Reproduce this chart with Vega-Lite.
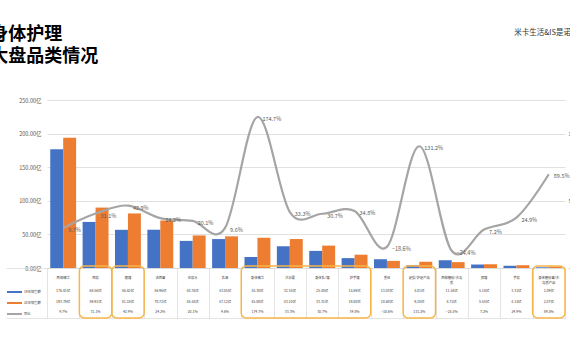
{
  "$schema": "https://vega.github.io/schema/vega-lite/v6.json",
  "padding": {"left": -10, "top": 25, "right": -11, "bottom": 0},
  "background": "white",
  "config": {"font": "Noto Sans CJK SC", "view": {"stroke": null}},
  "title": {"text": ["身体护理", "大盘品类情况"], "anchor": "start", "frame": "bounds", "fontSize": 18, "fontWeight": "bold", "lineHeight": 22, "color": "#000000", "dx": -15.5, "offset": -37},
  "datasets": {
    "cats": [
      {"cat": "面部精华", "y19": 176.81, "y20": 193.79, "yoy": 0.097},
      {"cat": "面膜", "y19": 68.56, "y20": 89.91, "yoy": 0.311},
      {"cat": "眼霜", "y19": 56.82, "y20": 81.18, "yoy": 0.429},
      {"cat": "洁面膏", "y19": 56.96, "y20": 70.72, "yoy": 0.242},
      {"cat": "化妆水", "y19": 40.34, "y20": 48.44, "yoy": 0.201},
      {"cat": "乳液", "y19": 43.05, "y20": 47.12, "yoy": 0.096},
      {"cat": "身体精华", "y19": 16.38, "y20": 45.00, "yoy": 1.747},
      {"cat": "沐浴露", "y19": 32.34, "y20": 43.10, "yoy": 0.333},
      {"cat": "身体乳/霜", "y19": 25.48, "y20": 33.31, "yoy": 0.307},
      {"cat": "护手霜", "y19": 14.69, "y20": 19.80, "yoy": 0.348},
      {"cat": "香体", "y19": 13.03, "y20": 10.60, "yoy": -0.186},
      {"cat": "足膜/护足产品", "y19": 4.01, "y20": 9.28, "yoy": 1.312},
      {"cat": "面部磨砂/去角\n质", "y19": 11.54, "y20": 8.72, "yoy": -0.244},
      {"cat": "颈霜", "y19": 5.18, "y20": 5.55, "yoy": 0.072},
      {"cat": "手膜", "y19": 3.31, "y20": 4.14, "yoy": 0.249},
      {"cat": "身体磨砂膏/去\n角质产品", "y19": 1.09, "y20": 2.07, "yoy": 0.895}
    ],
    "boxes": [
      {"start": "面膜", "end": "面膜"},
      {"start": "眼霜", "end": "眼霜"},
      {"start": "身体精华", "end": "护手霜"},
      {"start": "足膜/护足产品", "end": "足膜/护足产品"},
      {"start": "身体磨砂膏/去\n角质产品", "end": "身体磨砂膏/去\n角质产品"}
    ]
  },
  "bounds": "flush",
  "spacing": 0,
  "vconcat": [
    {
      "width": 518,
      "height": 168,
      "title": {"text": "米卡生活&IS是诺", "anchor": "end", "frame": "group", "fontSize": 7.5, "fontWeight": "normal", "color": "#333333", "offset": 62, "dx": 6},
      "data": {"name": "cats"},
      "layer": [
        {
          "transform": [{"fold": ["y19", "y20"], "as": ["key", "value"]}],
          "mark": {"type": "bar"},
          "encoding": {
            "x": {"field": "cat", "type": "nominal", "sort": null,
              "scale": {"domain": ["面部精华", "面膜", "眼霜", "洁面膏", "化妆水", "乳液", "身体精华", "沐浴露", "身体乳/霜", "护手霜", "香体", "足膜/护足产品", "面部磨砂/去角\n质", "颈霜", "手膜", "身体磨砂膏/去\n角质产品"], "paddingInner": 0.2, "paddingOuter": 0.1}, "axis": null},
            "xOffset": {"field": "key", "type": "nominal", "scale": {"domain": ["y19", "y20"]}},
            "y": {"field": "value", "type": "quantitative", "scale": {"domain": [0, 250], "nice": false, "zero": false},
              "axis": {"values": [0, 50, 100, 150, 200, 250], "labelExpr": "format(datum.value, '.2f') + '亿'", "labelFontSize": 5.5, "labelColor": "#595959", "ticks": false, "domain": false, "grid": true, "gridColor": "#D9D9D9", "gridWidth": 0.8, "labelPadding": 6, "title": null}},
            "color": {"field": "key", "type": "nominal",
              "scale": {"domain": ["y19", "y20", "yoy"], "range": ["#4472C4", "#ED7D31", "#A5A5A5"]},
              "legend": {"orient": "none", "legendX": -41, "legendY": 186.5, "title": null, "symbolType": "stroke", "symbolSize": 225, "symbolStrokeWidth": 2, "labelFontSize": 3.3, "labelColor": "#404040", "labelOffset": 1, "rowPadding": 0, "clipHeight": 11, "padding": 0,
                "labelExpr": "{'y19': '19年销售额', 'y20': '20年销售额', 'yoy': '同比'}[datum.label]",
                "encode": {"symbols": {"update": {"stroke": {"scale": "color", "field": "value"}, "strokeWidth": {"value": 2}}}}}}
          }
        },
        {
          "layer": [
            {
              "mark": {"type": "line", "interpolate": "cardinal", "strokeWidth": 2.2},
              "encoding": {
                "x": {"field": "cat", "type": "nominal", "sort": null},
                "y": {"field": "yoy", "type": "quantitative", "scale": {"domain": [-0.5, 2.0], "nice": false, "zero": false},
                  "axis": {"orient": "right", "values": [-0.5, 0, 0.5, 1, 1.5, 2], "format": ".0%", "labelFontSize": 5.5, "labelColor": "#595959", "ticks": false, "domain": false, "grid": false, "labelPadding": 3, "title": null}},
                "color": {"datum": "yoy", "type": "nominal"}
              }
            },
            {
              "mark": {"type": "text", "align": "left", "baseline": "middle", "dx": 5, "dy": 2, "fontSize": 5.5, "color": "#595959"},
              "encoding": {
                "x": {"field": "cat", "type": "nominal", "sort": null},
                "y": {"field": "yoy", "type": "quantitative"},
                "text": {"field": "yoy", "format": ".1%"}
              }
            }
          ]
        }
      ],
      "resolve": {"scale": {"y": "independent"}}
    },
    {
      "width": 518,
      "height": 50,
      "layer": [
        {
          "data": {"name": "cats"},
          "mark": {"type": "text", "fontSize": 3.3, "color": "#404040", "lineBreak": "\n", "lineHeight": 5},
          "encoding": {
            "x": {"field": "cat", "type": "nominal", "sort": null,
              "scale": {"type": "band", "domain": ["面部精华", "面膜", "眼霜", "洁面膏", "化妆水", "乳液", "身体精华", "沐浴露", "身体乳/霜", "护手霜", "香体", "足膜/护足产品", "面部磨砂/去角\n质", "颈霜", "手膜", "身体磨砂膏/去\n角质产品"], "paddingInner": 0, "paddingOuter": 0},
              "axis": {"orient": "top", "grid": true, "tickBand": "extent", "labels": false, "ticks": false, "domain": false, "gridColor": "#D9D9D9", "gridWidth": 0.7, "title": null}},
            "y": {"datum": 9.5, "type": "quantitative", "scale": {"domain": [0, 50], "reverse": true, "nice": false, "zero": false},
              "axis": {"values": [0, 16, 28, 39, 50], "grid": true, "labels": false, "ticks": true, "tickSize": 41, "tickColor": "#D9D9D9", "tickWidth": 0.7, "domain": false, "gridColor": "#D9D9D9", "gridWidth": 0.7, "title": null}},
            "text": {"field": "cat"}
          }
        },
        {
          "data": {"name": "cats"},
          "mark": {"type": "text", "fontSize": 3.5, "color": "#404040", "text": {"expr": "format(datum.y19, '.2f') + '亿'"}},
          "encoding": {
            "x": {"field": "cat", "type": "nominal", "sort": null},
            "y": {"datum": 23, "type": "quantitative"}
          }
        },
        {
          "data": {"name": "cats"},
          "mark": {"type": "text", "fontSize": 3.5, "color": "#404040", "text": {"expr": "format(datum.y20, '.2f') + '亿'"}},
          "encoding": {
            "x": {"field": "cat", "type": "nominal", "sort": null},
            "y": {"datum": 34, "type": "quantitative"}
          }
        },
        {
          "data": {"name": "cats"},
          "mark": {"type": "text", "fontSize": 3.5, "color": "#404040"},
          "encoding": {
            "x": {"field": "cat", "type": "nominal", "sort": null},
            "y": {"datum": 44, "type": "quantitative"},
            "text": {"field": "yoy", "format": ".1%"}
          }
        },
        {
          "data": {"name": "boxes"},
          "mark": {"type": "rect", "cornerRadius": 5, "fill": "transparent", "stroke": "#F7B548", "strokeWidth": 1.5, "yOffset": -2, "y2Offset": 3},
          "encoding": {
            "x": {"field": "start", "type": "nominal", "bandPosition": 0},
            "x2": {"field": "end", "bandPosition": 1}
          }
        }
      ]
    }
  ]
}
